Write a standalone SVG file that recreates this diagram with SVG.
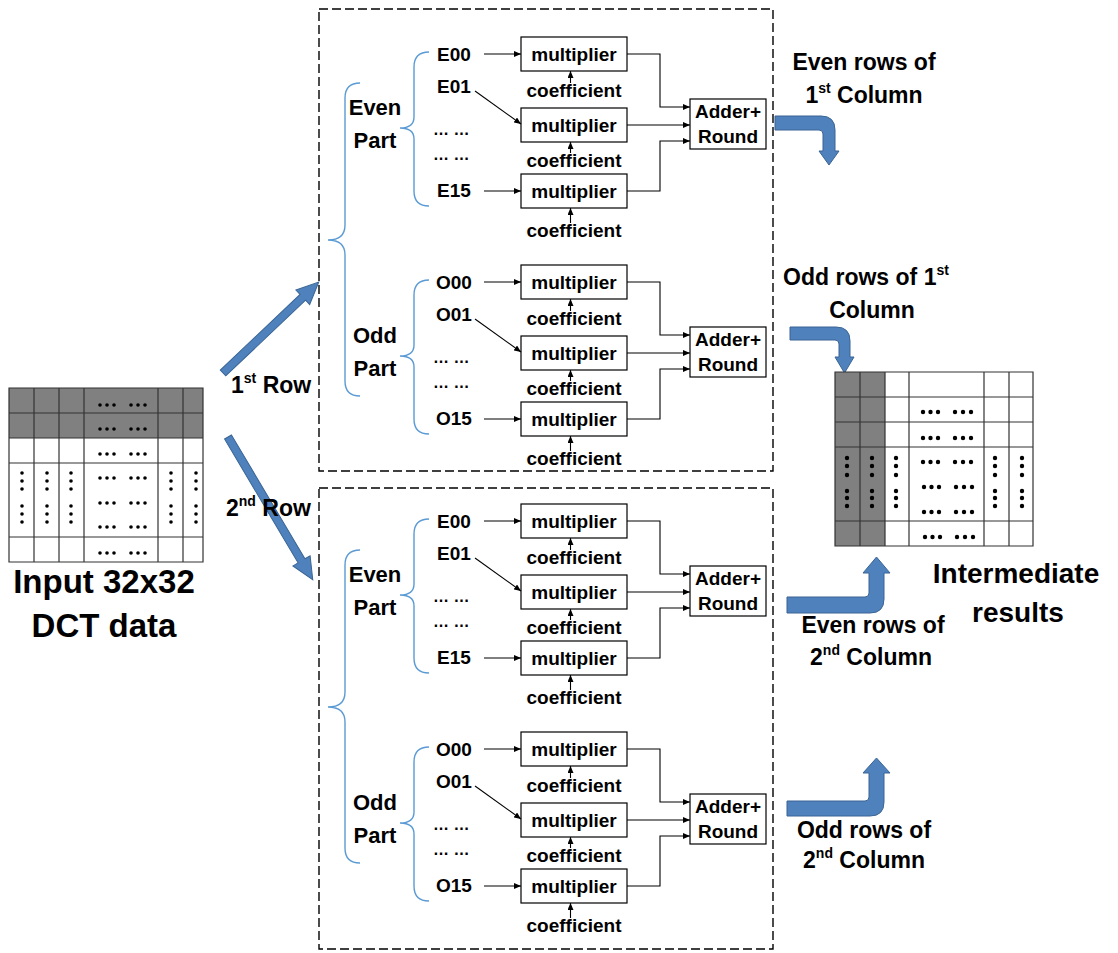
<svg xmlns="http://www.w3.org/2000/svg" width="1118" height="953" viewBox="0 0 1118 953">
<defs>
<style>
.t{font-family:"Liberation Sans",Arial,sans-serif;font-weight:bold;fill:#000}
.f19{font-size:19px}
.f16{font-size:16px}
.f22{font-size:22px}
.f23{font-size:23px}
.f28{font-size:28px}
.f33{font-size:33px}
.m{text-anchor:middle}
.box{fill:#fff;stroke:#000;stroke-width:1.2}
.ln{fill:none;stroke:#000;stroke-width:1.1}
.arr{marker-end:url(#ah)}
.brace{fill:none;stroke:#5B9BD5;stroke-width:1.4}
.dash{fill:none;stroke:#000;stroke-width:1.4;stroke-dasharray:9 4}
.big{fill:#4F81BD;stroke:#3A6594;stroke-width:1}
.grid{fill:none;stroke:#333;stroke-width:1.2}
.gray{fill:#808080}
.dot{fill:#000}
</style>
<marker id="ah" markerWidth="7" markerHeight="6" refX="7" refY="3" orient="auto" markerUnits="userSpaceOnUse"><path d="M0,0 L7,3 L0,6 Z" fill="#000"/></marker>
</defs>
<rect width="1118" height="953" fill="#fff"/>

<!-- Input matrix -->
<g id="input-matrix">
<rect class="gray" x="9" y="388" width="194" height="50"/>
<path class="grid" d="M9,388 H203 V562 H9 Z M9,413 H203 M9,438 H203 M9,463 H203 M9,537 H203 M34,388 V562 M59,388 V562 M84,388 V562 M158,388 V562 M183,388 V562"/>
<g class="dot">
<g id="in-hdots">
<circle cx="100" cy="405" r="1.8"/><circle cx="107" cy="405" r="1.8"/><circle cx="114" cy="405" r="1.8"/><circle cx="131" cy="405" r="1.8"/><circle cx="138" cy="405" r="1.8"/><circle cx="145" cy="405" r="1.8"/>
<circle cx="100" cy="429" r="1.8"/><circle cx="107" cy="429" r="1.8"/><circle cx="114" cy="429" r="1.8"/><circle cx="131" cy="429" r="1.8"/><circle cx="138" cy="429" r="1.8"/><circle cx="145" cy="429" r="1.8"/>
<circle cx="100" cy="454" r="1.8"/><circle cx="107" cy="454" r="1.8"/><circle cx="114" cy="454" r="1.8"/><circle cx="131" cy="454" r="1.8"/><circle cx="138" cy="454" r="1.8"/><circle cx="145" cy="454" r="1.8"/>
<circle cx="100" cy="478" r="1.8"/><circle cx="107" cy="478" r="1.8"/><circle cx="114" cy="478" r="1.8"/><circle cx="131" cy="478" r="1.8"/><circle cx="138" cy="478" r="1.8"/><circle cx="145" cy="478" r="1.8"/>
<circle cx="100" cy="503" r="1.8"/><circle cx="107" cy="503" r="1.8"/><circle cx="114" cy="503" r="1.8"/><circle cx="131" cy="503" r="1.8"/><circle cx="138" cy="503" r="1.8"/><circle cx="145" cy="503" r="1.8"/>
<circle cx="100" cy="527" r="1.8"/><circle cx="107" cy="527" r="1.8"/><circle cx="114" cy="527" r="1.8"/><circle cx="131" cy="527" r="1.8"/><circle cx="138" cy="527" r="1.8"/><circle cx="145" cy="527" r="1.8"/>
<circle cx="100" cy="553" r="1.8"/><circle cx="107" cy="553" r="1.8"/><circle cx="114" cy="553" r="1.8"/><circle cx="131" cy="553" r="1.8"/><circle cx="138" cy="553" r="1.8"/><circle cx="145" cy="553" r="1.8"/>
</g>
<g id="in-vdots">
<circle cx="22" cy="473" r="1.8"/><circle cx="22" cy="481" r="1.8"/><circle cx="22" cy="489" r="1.8"/><circle cx="22" cy="506" r="1.8"/><circle cx="22" cy="514" r="1.8"/><circle cx="22" cy="522" r="1.8"/>
<circle cx="47" cy="473" r="1.8"/><circle cx="47" cy="481" r="1.8"/><circle cx="47" cy="489" r="1.8"/><circle cx="47" cy="506" r="1.8"/><circle cx="47" cy="514" r="1.8"/><circle cx="47" cy="522" r="1.8"/>
<circle cx="71" cy="473" r="1.8"/><circle cx="71" cy="481" r="1.8"/><circle cx="71" cy="489" r="1.8"/><circle cx="71" cy="506" r="1.8"/><circle cx="71" cy="514" r="1.8"/><circle cx="71" cy="522" r="1.8"/>
<circle cx="171" cy="473" r="1.8"/><circle cx="171" cy="481" r="1.8"/><circle cx="171" cy="489" r="1.8"/><circle cx="171" cy="506" r="1.8"/><circle cx="171" cy="514" r="1.8"/><circle cx="171" cy="522" r="1.8"/>
<circle cx="196" cy="473" r="1.8"/><circle cx="196" cy="481" r="1.8"/><circle cx="196" cy="489" r="1.8"/><circle cx="196" cy="506" r="1.8"/><circle cx="196" cy="514" r="1.8"/><circle cx="196" cy="522" r="1.8"/>
</g>
</g>
<text class="t f33 m" x="104" y="593">Input 32x32</text>
<text class="t f33 m" x="104" y="637">DCT data</text>
</g>

<!-- Row arrows -->
<g id="row1-arrow">
<polygon class="big" transform="translate(223,373) rotate(-43.5)" points="0,-4 110,-4 110,-10 132,0 110,10 110,4 0,4"/>
<text class="t f23" x="231" y="393">1<tspan font-size="14" dy="-10">st</tspan><tspan dy="10"> Row</tspan></text>
</g>
<g id="row2-arrow">
<polygon class="big" transform="translate(228,437) rotate(59.3)" points="0,-4 144,-4 144,-10 166,0 144,10 144,4 0,4"/>
<text class="t f23" x="226" y="516">2<tspan font-size="14" dy="-10">nd</tspan><tspan dy="10"> Row</tspan></text>
</g>

<!-- Block 1 -->
<g id="block1">
<rect class="dash" x="319" y="9" width="454" height="462"/>
<path class="brace" d="M360,83 Q345,83 345,98 V225 Q345,240 328,240 Q345,240 345,255 V381 Q345,396 360,396"/>

<g id="b1-even" transform="translate(0,37)">
<path class="brace" d="M429,15 Q414,15 414,30 V80 Q414,91 400,91 Q414,91 414,102 V154 Q414,169 429,169"/>
<text class="t f22 m" x="375" y="78">Even</text>
<text class="t f22 m" x="375" y="111">Part</text>
<text class="t f19" x="437" y="24">E00</text>
<text class="t f19" x="437" y="56">E01</text>
<text class="t f16" x="433" y="98">… …</text>
<text class="t f16" x="433" y="123">… …</text>
<text class="t f19" x="437" y="160">E15</text>
<g id="b1-even-mul1"><rect class="box" x="521" y="0" width="106" height="34"/><text class="t f19 m" x="574" y="24">multiplier</text></g>
<g id="b1-even-mul2"><rect class="box" x="521" y="71" width="106" height="34"/><text class="t f19 m" x="574" y="95">multiplier</text></g>
<g id="b1-even-mul3"><rect class="box" x="521" y="137" width="106" height="34"/><text class="t f19 m" x="574" y="161">multiplier</text></g>
<text class="t f19 m" x="574" y="60">coefficient</text>
<text class="t f19 m" x="574" y="130">coefficient</text>
<text class="t f19 m" x="574" y="200">coefficient</text>
<g id="b1-even-adder"><rect class="box" x="690" y="62" width="76" height="50"/><text class="t f19 m" x="728" y="81">Adder+</text><text class="t f19 m" x="728" y="106">Round</text></g>
<g id="b1-even-conn" class="ln">
<path class="arr" d="M484,17 H521"/><path class="arr" d="M475,54 L521,87"/><path class="arr" d="M484,154 H521"/>
<path class="arr" d="M570.5,46 V34"/><path class="arr" d="M570.5,116 V105"/><path class="arr" d="M570.5,186 V171"/>
<path class="arr" d="M627,17 H660 V70 H690"/><path class="arr" d="M627,88 H690"/><path class="arr" d="M627,154 H660 V104 H690"/>
</g>
</g>

<g id="b1-odd" transform="translate(0,265)">
<path class="brace" d="M429,15 Q414,15 414,30 V80 Q414,91 400,91 Q414,91 414,102 V154 Q414,169 429,169"/>
<text class="t f22 m" x="375" y="78">Odd</text>
<text class="t f22 m" x="375" y="111">Part</text>
<text class="t f19" x="436" y="24">O00</text>
<text class="t f19" x="436" y="56">O01</text>
<text class="t f16" x="433" y="98">… …</text>
<text class="t f16" x="433" y="123">… …</text>
<text class="t f19" x="436" y="160">O15</text>
<g id="b1-odd-mul1"><rect class="box" x="521" y="0" width="106" height="34"/><text class="t f19 m" x="574" y="24">multiplier</text></g>
<g id="b1-odd-mul2"><rect class="box" x="521" y="71" width="106" height="34"/><text class="t f19 m" x="574" y="95">multiplier</text></g>
<g id="b1-odd-mul3"><rect class="box" x="521" y="137" width="106" height="34"/><text class="t f19 m" x="574" y="161">multiplier</text></g>
<text class="t f19 m" x="574" y="60">coefficient</text>
<text class="t f19 m" x="574" y="130">coefficient</text>
<text class="t f19 m" x="574" y="200">coefficient</text>
<g id="b1-odd-adder"><rect class="box" x="690" y="62" width="76" height="50"/><text class="t f19 m" x="728" y="81">Adder+</text><text class="t f19 m" x="728" y="106">Round</text></g>
<g id="b1-odd-conn" class="ln">
<path class="arr" d="M484,17 H521"/><path class="arr" d="M475,54 L521,87"/><path class="arr" d="M484,154 H521"/>
<path class="arr" d="M570.5,46 V34"/><path class="arr" d="M570.5,116 V105"/><path class="arr" d="M570.5,186 V171"/>
<path class="arr" d="M627,17 H660 V70 H690"/><path class="arr" d="M627,88 H690"/><path class="arr" d="M627,154 H660 V104 H690"/>
</g>
</g>
</g>

<!-- Block 2 -->
<g id="block2">
<rect class="dash" x="319" y="488" width="454" height="461"/>
<path class="brace" d="M360,550 Q345,550 345,565 V692 Q345,707 328,707 Q345,707 345,722 V848 Q345,863 360,863"/>

<g id="b2-even" transform="translate(0,504)">
<path class="brace" d="M429,15 Q414,15 414,30 V80 Q414,91 400,91 Q414,91 414,102 V154 Q414,169 429,169"/>
<text class="t f22 m" x="375" y="78">Even</text>
<text class="t f22 m" x="375" y="111">Part</text>
<text class="t f19" x="437" y="24">E00</text>
<text class="t f19" x="437" y="56">E01</text>
<text class="t f16" x="433" y="98">… …</text>
<text class="t f16" x="433" y="123">… …</text>
<text class="t f19" x="437" y="160">E15</text>
<g id="b2-even-mul1"><rect class="box" x="521" y="0" width="106" height="34"/><text class="t f19 m" x="574" y="24">multiplier</text></g>
<g id="b2-even-mul2"><rect class="box" x="521" y="71" width="106" height="34"/><text class="t f19 m" x="574" y="95">multiplier</text></g>
<g id="b2-even-mul3"><rect class="box" x="521" y="137" width="106" height="34"/><text class="t f19 m" x="574" y="161">multiplier</text></g>
<text class="t f19 m" x="574" y="60">coefficient</text>
<text class="t f19 m" x="574" y="130">coefficient</text>
<text class="t f19 m" x="574" y="200">coefficient</text>
<g id="b2-even-adder"><rect class="box" x="690" y="62" width="76" height="50"/><text class="t f19 m" x="728" y="81">Adder+</text><text class="t f19 m" x="728" y="106">Round</text></g>
<g id="b2-even-conn" class="ln">
<path class="arr" d="M484,17 H521"/><path class="arr" d="M475,54 L521,87"/><path class="arr" d="M484,154 H521"/>
<path class="arr" d="M570.5,46 V34"/><path class="arr" d="M570.5,116 V105"/><path class="arr" d="M570.5,186 V171"/>
<path class="arr" d="M627,17 H660 V70 H690"/><path class="arr" d="M627,88 H690"/><path class="arr" d="M627,154 H660 V104 H690"/>
</g>
</g>

<g id="b2-odd" transform="translate(0,732)">
<path class="brace" d="M429,15 Q414,15 414,30 V80 Q414,91 400,91 Q414,91 414,102 V154 Q414,169 429,169"/>
<text class="t f22 m" x="375" y="78">Odd</text>
<text class="t f22 m" x="375" y="111">Part</text>
<text class="t f19" x="436" y="24">O00</text>
<text class="t f19" x="436" y="56">O01</text>
<text class="t f16" x="433" y="98">… …</text>
<text class="t f16" x="433" y="123">… …</text>
<text class="t f19" x="436" y="160">O15</text>
<g id="b2-odd-mul1"><rect class="box" x="521" y="0" width="106" height="34"/><text class="t f19 m" x="574" y="24">multiplier</text></g>
<g id="b2-odd-mul2"><rect class="box" x="521" y="71" width="106" height="34"/><text class="t f19 m" x="574" y="95">multiplier</text></g>
<g id="b2-odd-mul3"><rect class="box" x="521" y="137" width="106" height="34"/><text class="t f19 m" x="574" y="161">multiplier</text></g>
<text class="t f19 m" x="574" y="60">coefficient</text>
<text class="t f19 m" x="574" y="130">coefficient</text>
<text class="t f19 m" x="574" y="200">coefficient</text>
<g id="b2-odd-adder"><rect class="box" x="690" y="62" width="76" height="50"/><text class="t f19 m" x="728" y="81">Adder+</text><text class="t f19 m" x="728" y="106">Round</text></g>
<g id="b2-odd-conn" class="ln">
<path class="arr" d="M484,17 H521"/><path class="arr" d="M475,54 L521,87"/><path class="arr" d="M484,154 H521"/>
<path class="arr" d="M570.5,46 V34"/><path class="arr" d="M570.5,116 V105"/><path class="arr" d="M570.5,186 V171"/>
<path class="arr" d="M627,17 H660 V70 H690"/><path class="arr" d="M627,88 H690"/><path class="arr" d="M627,154 H660 V104 H690"/>
</g>
</g>
</g>

<!-- Bent output arrows -->
<g id="out-even1">
<path class="big" d="M775,116 H821 Q835,116 835,130 V151 H839 L829,165 L819,151 H823 V134 Q823,130 819,130 H775 Z"/>
<text class="t f23 m" x="864" y="70">Even rows of</text>
<text class="t f23 m" x="864" y="103">1<tspan font-size="14" dy="-10">st</tspan><tspan dy="10"> Column</tspan></text>
</g>
<g id="out-odd1">
<path class="big" d="M790,327 H836 Q850,327 850,341 V357 H854 L844.5,373 L835,357 H839 V344 Q839,340 835,340 H790 Z"/>
<text class="t f23 m" x="866" y="285">Odd rows of 1<tspan font-size="14" dy="-10">st</tspan></text>
<text class="t f23 m" x="872" y="318">Column</text>
</g>
<g id="out-even2">
<path class="big" d="M787,597 H865 Q869,597 869,593 V573 H863 L876.5,557 L890,573 H884 V599 Q884,613 870,613 H787 Z"/>
<text class="t f23 m" x="873" y="633">Even rows of</text>
<text class="t f23 m" x="871" y="665">2<tspan font-size="14" dy="-10">nd</tspan><tspan dy="10"> Column</tspan></text>
</g>
<g id="out-odd2">
<path class="big" d="M787,801 H865 Q869,801 869,797 V773 H863 L876.5,758 L890,773 H884 V802 Q884,816 870,816 H787 Z"/>
<text class="t f23 m" x="864" y="838">Odd rows of</text>
<text class="t f23 m" x="864" y="868">2<tspan font-size="14" dy="-10">nd</tspan><tspan dy="10"> Column</tspan></text>
</g>

<!-- Intermediate matrix -->
<g id="intermediate-matrix">
<rect class="gray" x="835" y="372" width="50" height="174"/>
<path class="grid" d="M835,372 H1033 V546 H835 Z M835,397 H1033 M835,422 H1033 M835,447 H1033 M835,521 H1033 M860,372 V546 M885,372 V546 M909,372 V546 M984,372 V546 M1009,372 V546"/>
<g class="dot">
<circle cx="923" cy="412" r="2.2"/><circle cx="930.5" cy="412" r="2.2"/><circle cx="938" cy="412" r="2.2"/><circle cx="955" cy="412" r="2.2"/><circle cx="963" cy="412" r="2.2"/><circle cx="971" cy="412" r="2.2"/>
<circle cx="923" cy="438" r="2.2"/><circle cx="930.5" cy="438" r="2.2"/><circle cx="938" cy="438" r="2.2"/><circle cx="955" cy="438" r="2.2"/><circle cx="963" cy="438" r="2.2"/><circle cx="971" cy="438" r="2.2"/>
<circle cx="923" cy="462" r="2.2"/><circle cx="930.5" cy="462" r="2.2"/><circle cx="938" cy="462" r="2.2"/><circle cx="955" cy="462" r="2.2"/><circle cx="963" cy="462" r="2.2"/><circle cx="971" cy="462" r="2.2"/>
<circle cx="924" cy="487" r="2.2"/><circle cx="931.5" cy="487" r="2.2"/><circle cx="939" cy="487" r="2.2"/><circle cx="956" cy="487" r="2.2"/><circle cx="964" cy="487" r="2.2"/><circle cx="972" cy="487" r="2.2"/>
<circle cx="924" cy="512" r="2.2"/><circle cx="931.5" cy="512" r="2.2"/><circle cx="939" cy="512" r="2.2"/><circle cx="956" cy="512" r="2.2"/><circle cx="964" cy="512" r="2.2"/><circle cx="972" cy="512" r="2.2"/>
<circle cx="925" cy="537" r="2.2"/><circle cx="932.5" cy="537" r="2.2"/><circle cx="940" cy="537" r="2.2"/><circle cx="957" cy="537" r="2.2"/><circle cx="965" cy="537" r="2.2"/><circle cx="973" cy="537" r="2.2"/>
<circle cx="847" cy="458" r="2.2"/><circle cx="847" cy="466" r="2.2"/><circle cx="847" cy="475" r="2.2"/><circle cx="847" cy="491" r="2.2"/><circle cx="847" cy="498" r="2.2"/><circle cx="847" cy="506" r="2.2"/>
<circle cx="872" cy="458" r="2.2"/><circle cx="872" cy="466" r="2.2"/><circle cx="872" cy="475" r="2.2"/><circle cx="872" cy="491" r="2.2"/><circle cx="872" cy="498" r="2.2"/><circle cx="872" cy="506" r="2.2"/>
<circle cx="896" cy="458" r="2.2"/><circle cx="896" cy="466" r="2.2"/><circle cx="896" cy="475" r="2.2"/><circle cx="896" cy="491" r="2.2"/><circle cx="896" cy="498" r="2.2"/><circle cx="896" cy="506" r="2.2"/>
<circle cx="995" cy="458" r="2.2"/><circle cx="995" cy="466" r="2.2"/><circle cx="995" cy="475" r="2.2"/><circle cx="995" cy="491" r="2.2"/><circle cx="995" cy="498" r="2.2"/><circle cx="995" cy="506" r="2.2"/>
<circle cx="1022" cy="458" r="2.2"/><circle cx="1022" cy="466" r="2.2"/><circle cx="1022" cy="475" r="2.2"/><circle cx="1022" cy="491" r="2.2"/><circle cx="1022" cy="498" r="2.2"/><circle cx="1022" cy="506" r="2.2"/>
</g>
<text class="t f28 m" x="1016" y="583">Intermediate</text>
<text class="t f28 m" x="1018" y="622">results</text>
</g>
</svg>
